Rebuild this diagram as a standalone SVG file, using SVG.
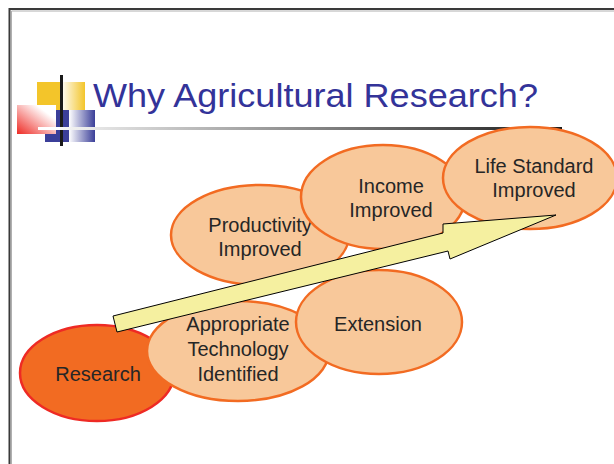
<svg xmlns="http://www.w3.org/2000/svg" width="614" height="464" viewBox="0 0 614 464">
  <defs>
    <linearGradient id="gYellow" x1="0" y1="0" x2="1" y2="0">
      <stop offset="0" stop-color="#ffffff"/>
      <stop offset="1" stop-color="#f3c52a"/>
    </linearGradient>
    <linearGradient id="gBlue" x1="0" y1="0" x2="1" y2="0">
      <stop offset="0" stop-color="#ffffff"/>
      <stop offset="1" stop-color="#3b3f99"/>
    </linearGradient>
    <linearGradient id="gRed" x1="0" y1="1" x2="1" y2="0">
      <stop offset="0" stop-color="#ee2a24"/>
      <stop offset="0.75" stop-color="#ffffff"/>
    </linearGradient>
    <linearGradient id="gRule" x1="0" y1="0" x2="1" y2="0">
      <stop offset="0" stop-color="#ffffff"/>
      <stop offset="1" stop-color="#1a1a1a"/>
    </linearGradient>
  </defs>
  <style>
    .node { fill: #f8c89a; stroke: #f26b22; stroke-width: 2.5; }
    .root { fill: #f26b22; stroke: #ee2a24; stroke-width: 2.5; }
    .lbl { font-family: "Liberation Sans", Arial, sans-serif; font-size: 20px; fill: #262626; text-anchor: middle; }
    .title { font-family: "Liberation Sans", Arial, sans-serif; font-size: 34px; fill: #333399; }
  </style>

  <rect width="614" height="464" fill="#ffffff"/>

  <!-- slide frame -->
  <g id="frame" fill="none">
    <path d="M9.5 464 V9 H614" stroke="#3a3a3a" stroke-width="2"/>
    <path d="M11.5 464 V11 H614" stroke="#b0b0b0" stroke-width="1"/>
  </g>

  <!-- title ornament -->
  <g id="ornament">
    <rect x="37" y="82" width="24" height="28" fill="#f3c52a"/>
    <rect x="61" y="82" width="24" height="28" fill="url(#gYellow)"/>
    <rect x="45" y="110" width="24" height="32" fill="#3b3f99"/>
    <rect x="69" y="110" width="26" height="32" fill="url(#gBlue)"/>
    <rect x="17" y="105" width="39" height="29" fill="url(#gRed)"/>
    <rect x="60" y="75" width="3" height="71" fill="#1a1a1a"/>
  </g>

  <!-- title rule -->
  <rect x="38" y="127" width="524" height="3" fill="url(#gRule)"/>
  <rect x="38" y="127" width="22" height="3" fill="#ffffff"/>

  <text class="title" x="93" y="107" textLength="445" lengthAdjust="spacingAndGlyphs">Why Agricultural Research?</text>

  <!-- nodes -->
  <g id="productivity">
    <ellipse class="node" cx="260" cy="235" rx="89" ry="50"/>
    <text class="lbl" x="260" y="232">Productivity</text>
    <text class="lbl" x="260" y="256">Improved</text>
  </g>
  <g id="income">
    <ellipse class="node" cx="383" cy="197" rx="82" ry="52"/>
    <text class="lbl" x="391" y="193">Income</text>
    <text class="lbl" x="391" y="217">Improved</text>
  </g>
  <g id="life-standard">
    <ellipse class="node" cx="530" cy="178" rx="87" ry="51"/>
    <text class="lbl" x="534" y="173">Life Standard</text>
    <text class="lbl" x="534" y="197">Improved</text>
  </g>
  <g id="research">
    <ellipse class="root" cx="97" cy="373" rx="77" ry="48"/>
    <text class="lbl" x="98" y="381">Research</text>
  </g>
  <g id="appropriate-technology">
    <ellipse class="node" cx="238" cy="351" rx="91" ry="50"/>
    <text class="lbl" x="238" y="331">Appropriate</text>
    <text class="lbl" x="238" y="356">Technology</text>
    <text class="lbl" x="238" y="381">Identified</text>
  </g>
  <g id="extension">
    <ellipse class="node" cx="379" cy="322" rx="83" ry="52"/>
    <text class="lbl" x="378" y="331">Extension</text>
  </g>

  <!-- connectors -->
  <g id="connectors">
    <polygon points="113,316 443,233 443,224 556,215 450,259 448,251 117,332" fill="#f5f0a0" stroke="#000000" stroke-width="1" stroke-linejoin="miter"/>
  </g>
</svg>
